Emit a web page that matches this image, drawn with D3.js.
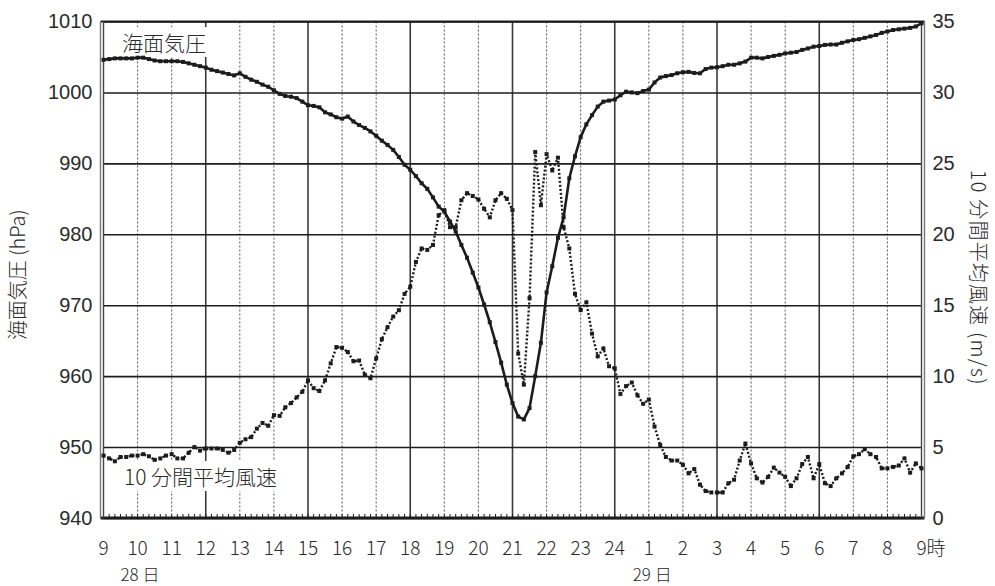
<!DOCTYPE html>
<html>
<head>
<meta charset="utf-8">
<script src="https://cdn.jsdelivr.net/npm/d3@7"></script>
<style>
  html, body { margin: 0; padding: 0; background: #fff; }
  svg { display: block; font-family: "Noto Sans CJK JP", "Noto Sans", sans-serif; font-weight: 300; }
</style>
</head>
<body>
<svg id="chart" width="995" height="586"></svg>
<script>
// Observation times: hours elapsed since 9:00 on the 28th, every 10 minutes
const stepsPerHour = 6;

// Sea-level pressure (hPa), 10-minute values
const pressure = [
  1004.6, 1004.7, 1004.8, 1004.8, 1004.8, 1004.8,
  1004.9, 1004.9, 1004.7, 1004.5, 1004.4, 1004.4,
  1004.4, 1004.4, 1004.3, 1004.1, 1003.9, 1003.7,
  1003.5, 1003.2, 1003.0, 1002.8, 1002.6, 1002.4,
  1002.7, 1002.2, 1001.8, 1001.5, 1001.1, 1000.8,
  1000.3, 999.8, 999.5, 999.4, 999.2, 998.7,
  998.2, 998.1, 997.9, 997.2, 996.9, 996.5,
  996.3, 996.6, 995.9, 995.4, 995.0, 994.5,
  993.9, 993.2, 992.6, 991.9, 990.9, 989.8,
  989.1, 988.2, 987.2, 986.4, 985.2, 983.9,
  983.2, 981.8, 980.4, 978.5, 976.7, 974.6,
  972.5, 970.1, 967.6, 964.8, 961.9, 958.8,
  956.2, 954.3, 953.9, 955.5, 960.0, 964.7,
  971.8, 975.5, 979.5, 982.4, 987.9, 991.0,
  993.7, 995.5, 996.8, 998.0, 998.7, 998.85,
  999.0, 999.6, 1000.1, 1000.0, 999.9, 1000.2,
  1000.4, 1001.4, 1002.1, 1002.3, 1002.45, 1002.7,
  1002.85, 1002.9, 1002.75, 1002.7, 1003.3, 1003.5,
  1003.55, 1003.7, 1003.9, 1003.9, 1004.1, 1004.35,
  1004.9, 1004.9, 1004.8, 1005.0, 1005.15, 1005.3,
  1005.5, 1005.6, 1005.7, 1006.0, 1006.2, 1006.45,
  1006.55, 1006.7, 1006.75, 1006.75, 1007.0, 1007.2,
  1007.4, 1007.5, 1007.7, 1007.9, 1008.1, 1008.4,
  1008.6, 1008.8, 1008.9, 1009.0, 1009.1, 1009.3,
  1009.75
];

// 10-minute mean wind speed (m/s)
const windSpeed = [
  4.4, 4.2, 4.0, 4.3, 4.3, 4.4,
  4.4, 4.5, 4.35, 4.1, 4.2, 4.4,
  4.5, 4.2, 4.2, 4.6, 5.0, 4.75,
  4.9, 4.9, 4.9, 4.8, 4.6, 4.8,
  5.3, 5.55, 5.7, 6.3, 6.7, 6.5,
  7.25, 7.2, 7.8, 8.1, 8.5, 8.9,
  9.7, 9.15, 8.95, 9.7, 10.9, 12.05,
  12.0, 11.7, 11.05, 11.1, 10.1, 9.85,
  11.25, 12.6, 13.45, 14.2, 14.65, 15.8,
  16.3, 18.05, 19.0, 18.9, 19.25, 21.35,
  21.7, 20.5, 20.5, 22.4, 22.9, 22.7,
  22.45, 21.8, 21.2, 22.4, 22.9, 22.5,
  21.7, 11.6, 9.4, 15.5, 25.8, 22.05,
  25.65, 24.5, 25.4, 20.5, 19.0, 15.8,
  14.65, 15.2, 13.0, 11.4, 11.95, 10.7,
  10.55, 8.75, 9.3, 9.55, 8.65, 8.05,
  8.35, 6.45, 5.15, 4.3, 4.05, 4.05,
  3.75, 3.15, 3.45, 2.35, 1.9, 1.8,
  1.8, 1.8, 2.45, 2.7, 4.05, 5.25,
  3.85, 2.8, 2.5, 2.9, 3.55, 3.2,
  2.9, 2.25, 2.8, 3.8, 4.3, 2.8,
  3.8, 2.45, 2.25, 2.8, 3.15, 3.6,
  4.35, 4.5, 4.85, 4.5, 4.3, 3.5,
  3.5, 3.6, 3.7, 4.2, 3.2, 3.85,
  3.5
];

// Hour labels along the time axis (9:00 on the 28th to 9:00 on the 29th)
const hourLabels = ["9", "10", "11", "12", "13", "14", "15", "16", "17", "18", "19", "20",
  "21", "22", "23", "24", "1", "2", "3", "4", "5", "6", "7", "8", "9"];
const dayLabels = [{ hour: 1.07, text: "28 日" }, { hour: 16.1, text: "29 日" }];

const pressureTicks = [940, 950, 960, 970, 980, 990, 1000, 1010];
const windTicks = [0, 5, 10, 15, 20, 25, 30, 35];

const pressureSeries = pressure.map((v, i) => ({ t: i / stepsPerHour, v }));
const windSeries = windSpeed.map((v, i) => ({ t: i / stepsPerHour, v }));

const svg = d3.select("#chart");
const plotLeft = 103.5, plotRight = 921.5, plotTop = 21.5, plotBottom = 518;
const ink = "#1c1c1c";
const textInk = "#2a2a2a";
const labelSize = 20;

const x = d3.scaleLinear().domain([0, 24]).range([plotLeft, plotRight]);
const yP = d3.scaleLinear().domain([940, 1010]).range([plotBottom, plotTop]);
const yW = d3.scaleLinear().domain([0, 35]).range([plotBottom, plotTop]);

// vertical hour grid: solid every 3 hours, dotted otherwise
const hourGrid = svg.append("g");
d3.range(1, 24).forEach(h => {
  const solid = h % 3 === 0;
  hourGrid.append("line")
    .attr("x1", x(h)).attr("x2", x(h))
    .attr("y1", plotTop).attr("y2", plotBottom)
    .attr("stroke", solid ? "#3a3a3a" : "#555")
    .attr("stroke-width", solid ? 1.6 : 1)
    .attr("stroke-dasharray", solid ? null : "2,2");
});

// horizontal grid from the pressure axis
svg.append("g")
  .attr("transform", `translate(${plotLeft},0)`)
  .call(d3.axisLeft(yP).tickValues(pressureTicks).tickSize(-(plotRight - plotLeft)).tickFormat(""))
  .call(g => g.select(".domain").remove())
  .call(g => g.selectAll(".tick line").attr("stroke", ink).attr("stroke-width", 1.6));

// 10-minute minor ticks on the time axis
svg.append("g")
  .selectAll("line")
  .data(d3.range(0, 24 * stepsPerHour + 1))
  .join("line")
  .attr("x1", d => x(d / stepsPerHour)).attr("x2", d => x(d / stepsPerHour))
  .attr("y1", plotBottom).attr("y2", plotBottom - 4)
  .attr("stroke", ink).attr("stroke-width", 1);

// frame
svg.append("line").attr("x1", plotLeft - 3).attr("x2", plotRight + 3).attr("y1", plotTop).attr("y2", plotTop)
  .attr("stroke", ink).attr("stroke-width", 2);
svg.append("line").attr("x1", plotLeft - 3).attr("x2", plotRight + 3).attr("y1", plotBottom).attr("y2", plotBottom)
  .attr("stroke", ink).attr("stroke-width", 3);
[plotLeft - 3, plotLeft].forEach((xx, i) => svg.append("line")
  .attr("x1", xx).attr("x2", xx).attr("y1", plotTop).attr("y2", plotBottom)
  .attr("stroke", i ? "#444" : "#777").attr("stroke-width", 1.4));
[plotRight, plotRight + 3].forEach((xx, i) => svg.append("line")
  .attr("x1", xx).attr("x2", xx).attr("y1", plotTop).attr("y2", plotBottom)
  .attr("stroke", i ? "#777" : "#444").attr("stroke-width", 1.4));

// series labels on white patches
function seriesLabel(text, tx, ty) {
  const g = svg.append("g");
  const t = g.append("text").attr("x", tx).attr("y", ty)
    .attr("font-size", 21).attr("fill", textInk).text(text);
  const b = t.node().getBBox();
  g.insert("rect", "text").attr("x", b.x - 3).attr("y", b.y).attr("width", b.width + 6)
    .attr("height", b.height).attr("fill", "#fff");
}
seriesLabel("海面気圧", 122, 51);
seriesLabel("10 分間平均風速", 124, 485);

// wind speed: dotted line with square markers
svg.append("path").datum(windSeries)
  .attr("fill", "none").attr("stroke", ink).attr("stroke-width", 2.4)
  .attr("stroke-dasharray", "2,2")
  .attr("d", d3.line().x(d => x(d.t)).y(d => yW(d.v)));
svg.append("g").selectAll("rect").data(windSeries).join("rect")
  .attr("x", d => x(d.t) - 2).attr("y", d => yW(d.v) - 2)
  .attr("width", 4).attr("height", 4).attr("fill", ink);

// sea-level pressure: solid line with square markers
svg.append("path").datum(pressureSeries)
  .attr("fill", "none").attr("stroke", ink).attr("stroke-width", 2.6)
  .attr("stroke-linejoin", "round")
  .attr("d", d3.line().x(d => x(d.t)).y(d => yP(d.v)));
svg.append("g").selectAll("rect").data(pressureSeries).join("rect")
  .attr("x", d => x(d.t) - 2).attr("y", d => yP(d.v) - 2)
  .attr("width", 4).attr("height", 4).attr("fill", ink);

// left axis labels
svg.append("g")
  .attr("transform", `translate(${plotLeft - 3},0)`)
  .call(d3.axisLeft(yP).tickValues(pressureTicks).tickSize(0).tickPadding(8).tickFormat(d3.format("d")))
  .call(g => g.select(".domain").remove())
  .call(g => g.selectAll("text").attr("font-size", labelSize).attr("fill", textInk)
    .attr("font-family", null));

// right axis labels
svg.append("g")
  .attr("transform", `translate(${plotRight + 3},0)`)
  .call(d3.axisRight(yW).tickValues(windTicks).tickSize(0).tickPadding(8).tickFormat(d3.format("d")))
  .call(g => g.select(".domain").remove())
  .call(g => g.selectAll("text").attr("font-size", labelSize).attr("fill", textInk)
    .attr("font-family", null));

// hour labels
const hourAxis = svg.append("g").attr("font-size", 19).attr("fill", textInk);
hourLabels.forEach((lab, i) => {
  if (i === hourLabels.length - 1) {
    const t = hourAxis.append("text").attr("y", 555).attr("text-anchor", "start");
    t.append("tspan").text(lab);
    t.append("tspan").text("時");
    const w = t.select("tspan").node().getComputedTextLength();
    t.attr("x", x(i) - w / 2);
  } else {
    hourAxis.append("text").attr("x", x(i)).attr("y", 555)
      .attr("text-anchor", "middle").text(lab);
  }
});
dayLabels.forEach(d => hourAxis.append("text").attr("x", x(d.hour)).attr("y", 581)
  .attr("font-size", 17).attr("text-anchor", "middle").text(d.text));

// axis titles
svg.append("text")
  .attr("transform", `translate(25,${(plotTop + plotBottom) / 2 + 5}) rotate(-90)`)
  .attr("text-anchor", "middle").attr("font-size", 20).attr("fill", textInk)
  .text("海面気圧 (hPa)");
svg.append("text")
  .attr("transform", `translate(971,${(plotTop + plotBottom) / 2 + 8}) rotate(90)`)
  .attr("text-anchor", "middle").attr("font-size", 20).attr("fill", textInk)
  .attr("letter-spacing", 1.2)
  .text("10 分間平均風速 (m/s)");
</script>
</body>
</html>
